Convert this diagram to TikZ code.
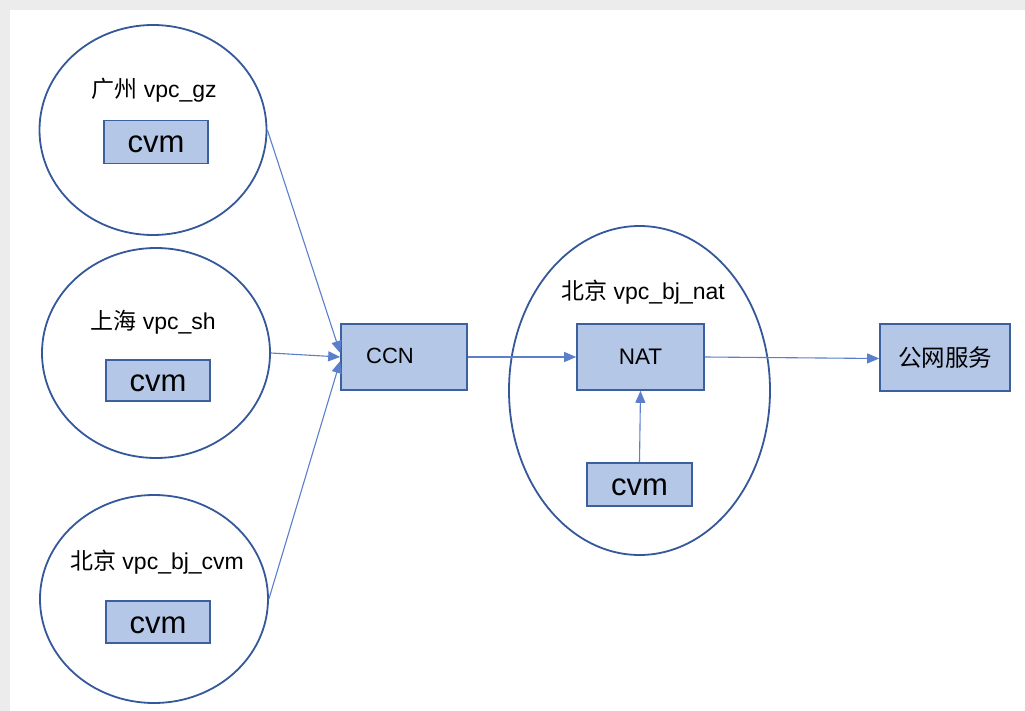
\documentclass[tikz,border=0pt]{standalone}
\usepackage{fontspec}
\setmainfont{Liberation Sans}
\newfontfamily\cjk{Noto Sans CJK SC}
\usetikzlibrary{shapes.geometric,arrows.meta,calc}
\definecolor{boxfill}{HTML}{B4C7E7}
\definecolor{boxline}{HTML}{3C5F9E}
\definecolor{ellline}{HTML}{34589A}
\definecolor{conn}{HTML}{5B7FCC}
\definecolor{framegray}{HTML}{ECECEC}
\tikzset{
  vpc/.style={draw=ellline, line width=1.8pt, ellipse, inner sep=0pt, fill=white},
  boxn/.style={draw=boxline, line width=1.6pt, fill=boxfill, inner sep=0pt, text=black},
  cvmbox/.style={boxn, font=\fontsize{31pt}{34pt}\selectfont, text height=22pt, text depth=0pt},
  lbl/.style={inner sep=0pt, font=\fontsize{23pt}{26pt}\selectfont},
  conarrow/.style={draw=conn, line width=1.1pt, -{Triangle[length=12pt,width=10pt]}}
}
\begin{document}
\begin{tikzpicture}[x=1pt,y=-1pt]
\fill[framegray] (0,0) rectangle (1025,711);
\fill[white] (10,10) rectangle (1025,711);
\useasboundingbox (0,0) rectangle (1025,711);

% VPC ellipses
\node[vpc, minimum width=227pt, minimum height=210pt] (gz) at (153,130) {};
\node[vpc, minimum width=228pt, minimum height=210pt] (sh) at (156,353) {};
\node[vpc, minimum width=228pt, minimum height=208pt] (bjc) at (154,599) {};
\node[vpc, minimum width=261pt, minimum height=329pt] (bjn) at (639.5,390.5) {};

% labels
\node[lbl] (gzl) at (154,90) {{\cjk 广州} vpc\_gz};
\node[lbl] (shl) at (153,322) {{\cjk 上海} vpc\_sh};
\node[lbl] (bjcl) at (157,562) {{\cjk 北京} vpc\_bj\_cvm};
\node[lbl] (bjnl) at (643,292) {{\cjk 北京} vpc\_bj\_nat};

% cvm boxes
\node[cvmbox, minimum width=104pt, minimum height=43pt] (cgz) at (156,142) {cvm};
\node[cvmbox, minimum width=104pt, minimum height=41pt] (csh) at (158,380.5) {cvm};
\node[cvmbox, minimum width=104pt, minimum height=42pt] (cbj) at (158,622) {cvm};
\node[cvmbox, minimum width=105pt, minimum height=43pt] (cnat) at (639.5,484.5) {cvm};

% main boxes
\node[boxn, minimum width=126pt, minimum height=66pt] (ccn) at (404,357) {};
\node[font=\fontsize{22pt}{24pt}\selectfont, inner sep=0pt] (ccnt) at (390,356) {CCN};
\node[boxn, minimum width=127pt, minimum height=66pt, font=\fontsize{22.5pt}{26pt}\selectfont] (nat) at (640.5,357) {NAT};
\node[boxn, minimum width=130pt, minimum height=67pt, font=\fontsize{23.5pt}{26pt}\selectfont] (pub) at (945,357.5) {{\cjk 公网服务}};

% connectors
\draw[conarrow] (gz.east) -- ($(ccn.west)+(0,-4)$);
\draw[conarrow] (sh.east) -- (ccn.west);
\draw[conarrow] (bjc.east) -- ($(ccn.west)+(0,4)$);
\draw[conarrow] (ccn.east) -- (nat.west);
\draw[conarrow] (nat.east) -- ($(pub.west)+(0,1)$);
\draw[conarrow] (cnat.north) -- (nat.south);
\end{tikzpicture}
\end{document}
